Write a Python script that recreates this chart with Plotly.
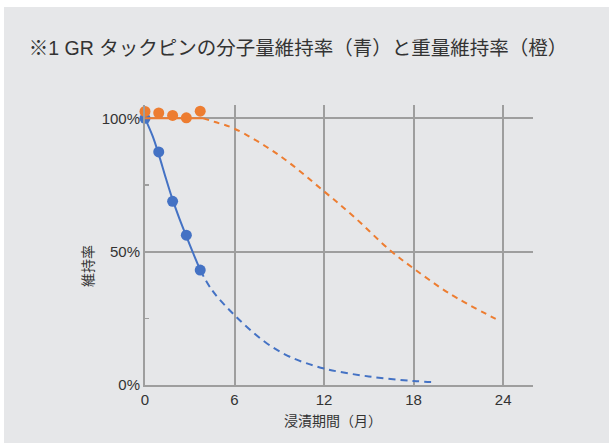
import plotly.graph_objects as go

# measured points (months, %)
meas_t = [0, 0.92, 1.85, 2.77, 3.7]
blue_meas = [100, 87.4, 68.9, 56.2, 43.1]
orange_meas = [102.6, 102.0, 101.1, 100.2, 102.7]

# fitted curves
blue_solid_t = [0, 0.5, 0.92, 1.4, 1.85, 2.3, 2.77, 3.2, 3.7]
blue_solid_v = [100, 93.5, 86.5, 77.5, 69.5, 62.5, 55.8, 49.8, 43.1]
blue_dash_t = [3.7, 4.5, 6, 8, 9.7, 12, 15, 18, 19.4]
blue_dash_v = [43.1, 35.5, 26.2, 16.3, 10.6, 6.2, 3.2, 1.5, 1.1]

orange_solid_t = [0, 3.9]
orange_solid_v = [100, 100]
orange_dash_t = [3.9, 4.7, 6, 9, 12, 14, 16.4, 18, 20.4, 23.5]
orange_dash_v = [100, 98.6, 96.1, 86.1, 72.6, 63.1, 50.6, 43.7, 34.3, 24.8]

x_ticks = [0, 6, 12, 18, 24]
y_ticks = [0, 50, 100]

BLUE = "#4472C4"
ORANGE = "#ED7D31"
GRID = "#9e9e9e"
TXT = "#333333"
FONT = "Liberation Sans, Noto Sans CJK JP, sans-serif"

fig = go.Figure()
fig.add_trace(go.Scatter(x=blue_solid_t, y=blue_solid_v, mode="lines", line=dict(color=BLUE, width=2, shape="spline"), cliponaxis=False))
fig.add_trace(go.Scatter(x=blue_dash_t, y=blue_dash_v, mode="lines", line=dict(color=BLUE, width=2, dash="7px,5px", shape="spline")))
fig.add_trace(go.Scatter(x=meas_t, y=blue_meas, mode="markers", marker=dict(color=BLUE, size=11), cliponaxis=False))
fig.add_trace(go.Scatter(x=orange_solid_t, y=orange_solid_v, mode="lines", line=dict(color=ORANGE, width=2), cliponaxis=False))
fig.add_trace(go.Scatter(x=orange_dash_t, y=orange_dash_v, mode="lines", line=dict(color=ORANGE, width=2, dash="6px,5px", shape="spline")))
fig.add_trace(go.Scatter(x=meas_t, y=orange_meas, mode="markers", marker=dict(color=ORANGE, size=11), cliponaxis=False))

L, R, T, B = 145, 76, 105, 60
W, H = 609, 445
pw, ph = W - L - R, H - T - B

def px(x):
    return (x - L) / pw

def py(y):
    return (H - B - y) / ph

fig.update_layout(
    width=W, height=H,
    margin=dict(l=L, r=R, t=T, b=B),
    paper_bgcolor="white",
    plot_bgcolor="white",
    showlegend=False,
    hovermode=False,
    font=dict(family=FONT, color=TXT),
    title=dict(text="※1 GR タックピンの分子量維持率（青）と重量維持率（橙）",
               x=298 / W, xanchor="center", y=1 - 48 / H, yanchor="middle",
               font=dict(size=19.5, color=TXT, family=FONT)),
    shapes=[dict(type="rect", xref="paper", yref="paper", layer="below",
                 x0=px(4), x1=px(W + 2), y0=py(443), y1=py(7),
                 fillcolor="#e6e7e9", line=dict(width=0))],
    annotations=[
        dict(text="維持率", xref="paper", yref="paper", x=px(88), y=py(266),
             showarrow=False, textangle=-90, font=dict(size=14, color=TXT, family=FONT),
             xanchor="center", yanchor="middle"),
        dict(text="浸漬期間（月）", xref="paper", yref="paper", x=px(333), y=py(421),
             showarrow=False, font=dict(size=14, color=TXT, family=FONT),
             xanchor="center", yanchor="middle"),
    ],
)
fig.update_xaxes(range=[0, 26], tickvals=x_ticks, ticktext=[str(v) for v in x_ticks],
                 showgrid=True, gridcolor=GRID, gridwidth=2, zeroline=False,
                 showline=True, linecolor=GRID, linewidth=2, ticks="",
                 tickfont=dict(size=15, color=TXT, family=FONT))
fig.update_yaxes(range=[0, 105], tickvals=y_ticks, ticktext=[f"{v}%" for v in y_ticks],
                 showgrid=True, gridcolor=GRID, gridwidth=2, zeroline=False,
                 showline=True, linecolor=GRID, linewidth=2, ticks="",
                 tickfont=dict(size=15, color=TXT, family=FONT),
                 minor=dict(tickvals=[25, 75], ticks="inside", ticklen=4, tickcolor=GRID, tickwidth=1.5, showgrid=False))

fig.write_html("out.html", config={"displayModeBar": False, "staticPlot": True},
               post_script="document.body.style.margin='0';document.body.style.overflow='hidden';")
